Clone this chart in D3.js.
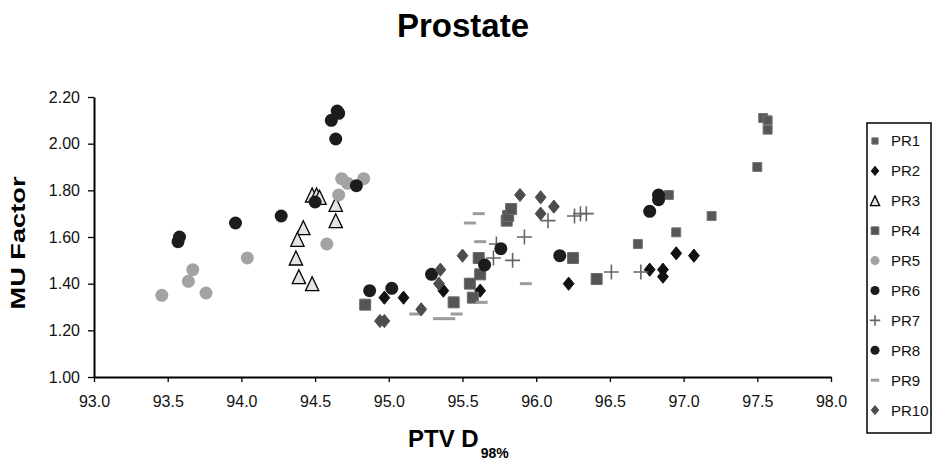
<!DOCTYPE html>
<html>
<head>
<meta charset="utf-8">
<script src="https://cdn.jsdelivr.net/npm/d3@7"></script>
<style>
  body { margin: 0; background: #fff; }
  text { font-family: "Liberation Sans", Arial, sans-serif; }
</style>
</head>
<body>
<svg id="chart" width="932" height="462"></svg>
<script>
// data: [PTV D98%, MU factor]
var pr1 = [[97.54,2.11],[97.57,2.10],[97.57,2.06],[97.50,1.90],[96.90,1.78],[97.19,1.69],[96.95,1.62],[96.69,1.57]];
var pr2 = [[94.97,1.34],[95.10,1.34],[95.37,1.37],[95.62,1.37],[96.22,1.40],[96.77,1.46],[96.86,1.46],[96.86,1.43],[96.95,1.53],[97.07,1.52]];
var pr3 = [[94.48,1.78],[94.51,1.78],[94.53,1.77],[94.64,1.74],[94.64,1.67],[94.42,1.64],[94.38,1.59],[94.37,1.51],[94.39,1.43],[94.48,1.40]];
var pr4 = [[94.84,1.31],[95.44,1.32],[95.57,1.34],[95.55,1.40],[95.62,1.44],[95.61,1.51],[95.80,1.67],[95.81,1.69],[95.83,1.72],[96.25,1.51],[96.41,1.42]];
var pr5 = [[93.46,1.35],[93.64,1.41],[93.67,1.46],[93.76,1.36],[94.04,1.51],[94.58,1.57],[94.66,1.78],[94.68,1.85],[94.72,1.83],[94.83,1.85]];
var pr6 = [[94.61,2.10],[94.65,2.14],[94.66,2.13],[94.64,2.02],[94.78,1.82],[94.50,1.75],[94.27,1.69],[93.96,1.66]];
var pr7 = [[95.71,1.51],[95.73,1.57],[95.84,1.50],[95.92,1.60],[96.08,1.67],[96.26,1.69],[96.30,1.70],[96.34,1.70],[96.51,1.45],[96.71,1.45]];
var pr8 = [[93.57,1.58],[93.58,1.60],[94.87,1.37],[95.02,1.38],[95.29,1.44],[95.65,1.48],[95.76,1.55],[96.16,1.52],[96.77,1.71],[96.83,1.76],[96.83,1.78]];
var pr9 = [[95.18,1.27],[95.34,1.25],[95.41,1.25],[95.46,1.27],[95.63,1.32],[95.93,1.40],[95.62,1.58],[95.55,1.66],[95.61,1.70]];
var pr10 = [[94.94,1.24],[94.97,1.24],[95.22,1.29],[95.34,1.40],[95.35,1.46],[95.50,1.52],[95.89,1.78],[96.03,1.77],[96.12,1.73],[96.03,1.70]];

var seriesNames = ["PR1","PR2","PR3","PR4","PR5","PR6","PR7","PR8","PR9","PR10"];
var seriesData = [pr1, pr2, pr3, pr4, pr5, pr6, pr7, pr8, pr9, pr10];
var xTicks = [93.0, 93.5, 94.0, 94.5, 95.0, 95.5, 96.0, 96.5, 97.0, 97.5, 98.0];
var yTicks = [1.00, 1.20, 1.40, 1.60, 1.80, 2.00, 2.20];

// marker shapes, s = size in px
function square(s) { var h = s / 2; return "M" + (-h) + "," + (-h) + "h" + s + "v" + s + "h" + (-s) + "Z"; }
function diamond(s) { var w = s * 0.45, h = s * 0.55; return "M0," + (-h) + "L" + w + ",0L0," + h + "L" + (-w) + ",0Z"; }
function triangle(s) { var h = s / 2; return "M0," + (-h) + "L" + (h * 0.95) + "," + h + "L" + (-h * 0.95) + "," + h + "Z"; }
function circle(s) { return d3.symbol(d3.symbolCircle, Math.PI * s * s / 4)(); }
function plus(s) { var h = s / 2; return "M" + (-h) + ",0H" + h + "M0," + (-h) + "V" + h; }
function dash(s) { var h = s / 2; return "M" + (-h) + ",0H" + h; }

var styles = [
  {shape: square,   size: 9,  fill: "#575757", stroke: "#777", sw: 1},
  {shape: diamond,  size: 12, fill: "#111",    stroke: "#111", sw: 1},
  {shape: triangle, size: 14, fill: "#e4e4e4", stroke: "#000", sw: 1.3},
  {shape: square,   size: 11, fill: "#555",    stroke: "#6a6a6a", sw: 1},
  {shape: circle,   size: 13, fill: "#a3a3a3", stroke: "none", sw: 0},
  {shape: circle,   size: 13, fill: "#1c1c1c", stroke: "none", sw: 0},
  {shape: plus,     size: 15, fill: "none",    stroke: "#666", sw: 1.6},
  {shape: circle,   size: 13, fill: "#1c1c1c", stroke: "none", sw: 0},
  {shape: dash,     size: 12, fill: "none",    stroke: "#9c9c9c", sw: 3},
  {shape: diamond,  size: 12, fill: "#4d4d4d", stroke: "#4d4d4d", sw: 1}
];

var svg = d3.select("#chart");
var plotLeft = 94, plotRight = 831, plotTop = 97, plotBottom = 377;

var x = d3.scaleLinear().domain([93, 98]).range([plotLeft, plotRight]);
var y = d3.scaleLinear().domain([1.0, 2.2]).range([plotBottom, plotTop]);

// title
svg.append("text")
    .attr("x", 463).attr("y", 37)
    .attr("text-anchor", "middle")
    .style("font-size", "33px").style("font-weight", "bold")
    .text("Prostate");

// axes
var xAxis = svg.append("g")
    .attr("transform", "translate(0," + plotBottom + ")")
    .call(d3.axisBottom(x).tickValues(xTicks).tickFormat(d3.format(".1f")).tickSizeInner(5).tickSizeOuter(0).tickPadding(14));
var yAxis = svg.append("g")
    .attr("transform", "translate(" + plotLeft + ",0)")
    .call(d3.axisLeft(y).tickValues(yTicks).tickFormat(d3.format(".2f")).tickSizeInner(6).tickSizeOuter(0).tickPadding(8));

[xAxis, yAxis].forEach(function(g) {
  g.select(".domain").attr("stroke", "#000").attr("stroke-width", 2);
  g.selectAll(".tick line").attr("stroke", "#000").attr("stroke-width", 1.3);
  g.selectAll(".tick text").attr("fill", "#111")
    .style("font-family", "'Liberation Sans', Arial, sans-serif").style("font-size", "16px");
});

// axis titles
svg.append("text")
    .attr("transform", "translate(25,243) rotate(-90)")
    .attr("text-anchor", "middle")
    .attr("textLength", 133).attr("lengthAdjust", "spacingAndGlyphs")
    .style("font-size", "21px").style("font-weight", "bold")
    .text("MU Factor");

var xt = svg.append("text")
    .attr("x", 408).attr("y", 447)
    .style("font-size", "24px").style("font-weight", "bold");
xt.append("tspan").text("PTV D");
xt.append("tspan").attr("dx", 2).attr("dy", 11).style("font-size", "14px").text("98%");

// points
seriesData.forEach(function(data, i) {
  var st = styles[i];
  svg.append("g").attr("class", "series-" + seriesNames[i])
    .selectAll("path")
    .data(data)
    .enter().append("path")
      .attr("transform", function(d) { return "translate(" + x(d[0]) + "," + y(d[1]) + ")"; })
      .attr("d", st.shape(st.size))
      .attr("fill", st.fill)
      .attr("stroke", st.stroke)
      .attr("stroke-width", st.sw);
});

// legend
var legend = svg.append("g");
legend.append("rect")
    .attr("x", 867).attr("y", 123).attr("width", 64).attr("height", 310)
    .attr("fill", "#fff").attr("stroke", "#000").attr("stroke-width", 1.5);

var item = legend.selectAll(".item")
    .data(seriesNames)
    .enter().append("g")
      .attr("transform", function(d, i) { return "translate(875," + (141 + i * 29.9) + ")"; });
item.append("path")
    .attr("d", function(d, i) { return styles[i].shape(styles[i].size * 0.7); })
    .attr("fill", function(d, i) { return styles[i].fill; })
    .attr("stroke", function(d, i) { return styles[i].stroke; })
    .attr("stroke-width", function(d, i) { return styles[i].sw; });
item.append("text")
    .attr("x", 16).attr("dy", "0.36em")
    .style("font-size", "15px").attr("fill", "#111")
    .text(function(d) { return d; });
</script>
</body>
</html>
